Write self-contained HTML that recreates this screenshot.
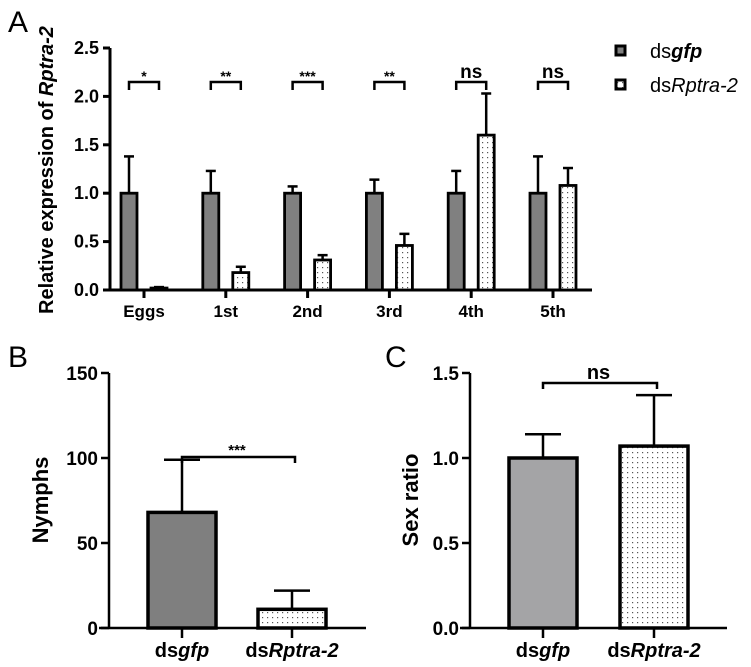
<!DOCTYPE html>
<html><head><meta charset="utf-8"><style>
html,body{margin:0;padding:0;background:#fff;width:751px;height:667px;overflow:hidden}
svg{display:block;font-family:"Liberation Sans",Arial,sans-serif}
</style></head><body>
<svg id="fig" width="751" height="667" viewBox="0 0 751 667">
<defs>
<pattern id="dots" width="5" height="5" patternUnits="userSpaceOnUse"><rect width="5" height="5" fill="#fff"/><rect x="2" y="2" width="1.2" height="1.2" fill="#555"/></pattern>
</defs>
<text x="8" y="32" font-size="30">A</text>
<text x="8" y="367" font-size="30">B</text>
<text x="385" y="367" font-size="30">C</text>
<text transform="translate(53,170) rotate(-90)" text-anchor="middle" font-size="20" font-weight="bold">Relative expression of <tspan font-style="italic">Rptra-2</tspan></text>
<text transform="translate(48,500) rotate(-90)" text-anchor="middle" font-size="22" font-weight="bold">Nymphs</text>
<text transform="translate(418,500) rotate(-90)" text-anchor="middle" font-size="22" font-weight="bold">Sex ratio</text>
<g>
<rect x="616" y="46" width="9" height="9" fill="#808080" stroke="#000" stroke-width="3"/>
<text x="650" y="58" font-size="20">ds<tspan font-style="italic" font-weight="bold">gfp</tspan></text>
<rect x="616" y="80" width="9" height="9" fill="url(#dots)" stroke="#000" stroke-width="3"/>
<text x="650" y="92" font-size="20">ds<tspan font-style="italic">Rptra-2</tspan></text>
</g>
<g id="pa"></g><g id="pb"></g><g id="pc"></g>
</svg>
<script>
// Panel A data
const catsA = ["Eggs","1st","2nd","3rd","4th","5th"];
const gfpA = [1.0,1.0,1.0,1.0,1.0,1.0];
const gfpErrA = [0.38,0.23,0.07,0.14,0.23,0.38];
const rpA = [0.02,0.18,0.31,0.46,1.60,1.08];
const rpErrA = [0.01,0.06,0.05,0.12,0.43,0.18];
const sigA = ["*","**","***","**","ns","ns"];
const ticksA = ["0.0","0.5","1.0","1.5","2.0","2.5"];
const tickValsA = [0,0.5,1,1.5,2,2.5];
// Panel B data
const catsB = ["gfp","Rptra-2"];
const valsB = [68,11];
const errB = [31,11];
const tickValsB = [0,50,100,150];
const ticksB = ["0","50","100","150"];
const sigB = "***";
// Panel C data
const valsC = [1.0,1.07];
const errC = [0.14,0.30];
const tickValsC = [0,0.5,1.0,1.5];
const ticksC = ["0.0","0.5","1.0","1.5"];
const sigC = "ns";

const NS="http://www.w3.org/2000/svg";
function mk(parent,tag,attrs,text){const e=document.createElementNS(NS,tag);for(const k in attrs)e.setAttribute(k,attrs[k]);if(text!==undefined)e.textContent=text;parent.appendChild(e);return e;}

// ---- Panel A
(function(){
const g=document.getElementById('pa');
const x0=110,xEnd=592,y0=290,yTop=48,ymax=2.5;
const y=v=>y0-(v/ymax)*(y0-yTop);
const xc=i=>144+i*81.8;
const ax=mk(g,'line',{x1:x0,y1:y0,x2:x0,y2:yTop,stroke:'#000','stroke-width':3});


const bx=mk(g,'line',{x1:x0-1.5,y1:y0,x2:xEnd,y2:y0,stroke:'#000','stroke-width':3});


tickValsA.forEach((v,i)=>{
 mk(g,'line',{x1:x0-7,y1:y(v),x2:x0,y2:y(v),stroke:'#000','stroke-width':3});
 const t=mk(g,'text',{x:x0-11,y:y(v)+6,'text-anchor':'end','font-size':18,'font-weight':'bold'},ticksA[i]);
 
 
});
catsA.forEach((c,i)=>{
 const cx=xc(i);
 mk(g,'line',{x1:cx,y1:y0,x2:cx,y2:y0+8,stroke:'#000','stroke-width':3});
 const t=mk(g,'text',{x:cx,y:y0+27,'text-anchor':'middle','font-size':17,'font-weight':'bold'},c);
 
 
 const w=16;
 [[cx-23,gfpA[i],gfpErrA[i],'#808080','bar-a-dsgfp'],[cx+7,rpA[i],rpErrA[i],'url(#dots)','bar-a-dsrptra2']].forEach(b=>{
  const bxl=b[0],v=b[1],e=b[2];
  const mid=bxl+w/2;
  mk(g,'line',{x1:mid,y1:y(v),x2:mid,y2:y(v+e),stroke:'#000','stroke-width':2.5});
  mk(g,'line',{x1:mid-5,y1:y(v+e),x2:mid+5,y2:y(v+e),stroke:'#000','stroke-width':2.5});
  const r=mk(g,'rect',{x:bxl,y:y(v),width:w,height:Math.max(y0-y(v),1),fill:b[3],stroke:'#000','stroke-width':2.8});
  
  
 });
 const l=cx-15,rr=cx+15,by=82;
 mk(g,'path',{d:`M${l},${by+8}V${by}H${rr}V${by+8}`,fill:'none',stroke:'#000','stroke-width':2.5});
 const s=mk(g,'text',{x:cx,y:sigA[i]==='ns'?by-4:by-1,'text-anchor':'middle','font-size':sigA[i]==='ns'?19:14,'font-weight':'bold'},sigA[i]);
 
 
});
})();

function panel(id,x0,xEnd,ticksX,vals,errs,tickVals,ticks,ymax,fills,sig,by,names){
 const g=document.getElementById(id);
 const y0=628,yTop=373;
 const y=v=>y0-(v/ymax)*(y0-yTop);
 const a1=mk(g,'line',{x1:x0,y1:y0,x2:x0,y2:yTop,stroke:'#000','stroke-width':2.5});
 
 
 const a2=mk(g,'line',{x1:x0-10,y1:y0,x2:xEnd,y2:y0,stroke:'#000','stroke-width':2.5});
 
 
 tickVals.forEach((v,i)=>{
  mk(g,'line',{x1:x0-8,y1:y(v),x2:x0,y2:y(v),stroke:'#000','stroke-width':2.5});
  const t=mk(g,'text',{x:x0-11,y:y(v)+7,'text-anchor':'end','font-size':19,'font-weight':'bold'},ticks[i]);
  
  
 });
 const w=68;
 vals.forEach((v,i)=>{
  const cx=ticksX[i];
  mk(g,'line',{x1:cx,y1:y0,x2:cx,y2:y0+10,stroke:'#000','stroke-width':2.5});
  mk(g,'line',{x1:cx,y1:y(v),x2:cx,y2:y(v+errs[i]),stroke:'#000','stroke-width':2.5});
  mk(g,'line',{x1:cx-18,y1:y(v+errs[i]),x2:cx+18,y2:y(v+errs[i]),stroke:'#000','stroke-width':2.5});
  const r=mk(g,'rect',{x:cx-w/2,y:y(v),width:w,height:y0-y(v),fill:fills[i],stroke:'#000','stroke-width':3.5});
  
  
  const t=mk(g,'text',{x:cx,y:657,'text-anchor':'middle','font-size':20,'font-weight':'bold'});
  
  
  mk(t,'tspan',{},'ds');
  mk(t,'tspan',{'font-style':'italic'},catsB[i]);
 });
 mk(g,'path',{d:`M${ticksX[0]},${by+6}V${by}H${ticksX[1]+3}V${by+6}`,fill:'none',stroke:'#000','stroke-width':2.5});
 const s=mk(g,'text',{x:(ticksX[0]+ticksX[1])/2,y:sig==='ns'?by-4:by-2,'text-anchor':'middle','font-size':sig==='ns'?20:15,'font-weight':'bold'},sig);
 
 
}
panel('pb',109,366,[182,292],valsB,errB,tickValsB,ticksB,150,['#7f7f7f','url(#dots)'],sigB,457,['dsgfp','dsrptra2']);
panel('pc',470,727,[543,654],valsC,errC,tickValsC,ticksC,1.5,['#a4a4a6','url(#dots)'],sigC,383,['dsgfp','dsrptra2']);
</script>
</body></html>
